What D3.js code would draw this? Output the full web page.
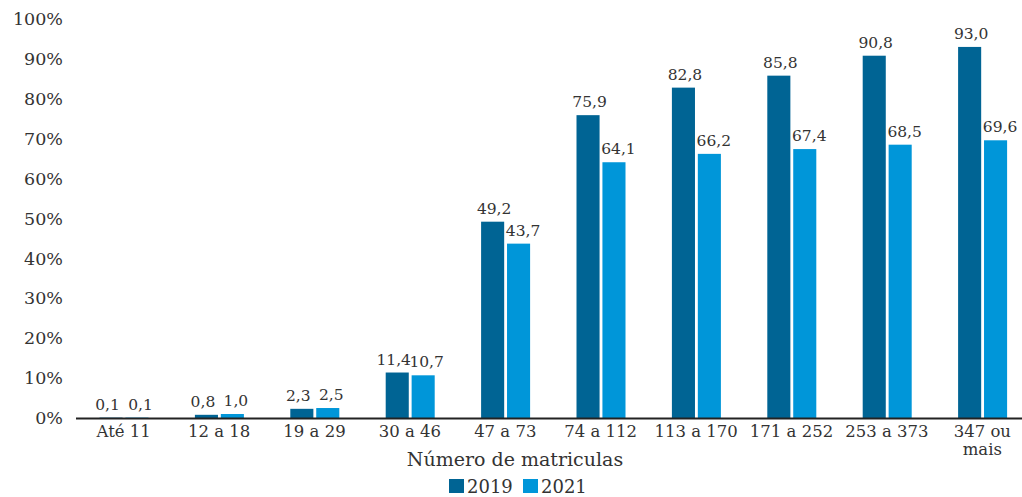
<!DOCTYPE html>
<html>
<head>
<meta charset="utf-8">
<script src="https://cdn.jsdelivr.net/npm/d3@7"></script>
<style>
  body { margin: 0; background: #fff; }
  text { font-family: "DejaVu Serif", serif; fill: #333; }
</style>
</head>
<body>
<svg width="1022" height="497"></svg>
<script>
// dados
const categorias = ["Até 11", "12 a 18", "19 a 29", "30 a 46", "47 a 73", "74 a 112", "113 a 170", "171 a 252", "253 a 373", "347 ou mais"]
const anos = ["2019", "2021"]
const valores2019 = [0.1, 0.8, 2.3, 11.4, 49.2, 75.9, 82.8, 85.8, 90.8, 93.0]
const valores2021 = [0.1, 1.0, 2.5, 10.7, 43.7, 64.1, 66.2, 67.4, 68.5, 69.6]
const ticksY = [0, 10, 20, 30, 40, 50, 60, 70, 80, 90, 100]

const cores = { "2019": "#006494", "2021": "#0096d9" }
const svg = d3.select("svg")

// escalas
const x = d3.scaleBand().domain(categorias).range([76, 1030]).padding(0)
const y = d3.scaleLinear().domain([0, 100]).range([418, 19])
const xSub = d3.scaleBand().domain(anos).range([23.5, 72.5]).paddingInner(0.11)

// eixo y (só texto)
svg.append("g")
  .selectAll("text")
  .data(ticksY)
  .join("text")
  .attr("x", 63)
  .attr("y", d => y(d))
  .attr("dy", "0.35em")
  .attr("text-anchor", "end")
  .style("font-size", "17.5px")
  .text(d => d + "%")

// barras
const linhas = []
categorias.forEach((c, i) => {
  const a = valores2019[i], b = valores2021[i]
  // rótulos afastados quando as barras têm alturas parecidas
  const perto = Math.abs(a - b) < 5
  linhas.push({ ano: "2019", cat: c, v: a, dx: perto ? -3.5 : 1.5 })
  linhas.push({ ano: "2021", cat: c, v: b, dx: perto ? 3.5 : 4.5 })
})

svg.append("g")
  .selectAll("rect")
  .data(linhas)
  .join("rect")
  .attr("x", d => x(d.cat) + xSub(d.ano))
  .attr("y", d => y(d.v))
  .attr("width", xSub.bandwidth())
  .attr("height", d => y(0) - y(d.v))
  .attr("fill", d => cores[d.ano])

// rótulos de valor
svg.append("g")
  .selectAll("text")
  .data(linhas)
  .join("text")
  .attr("x", d => x(d.cat) + xSub(d.ano) + xSub.bandwidth() / 2 + d.dx)
  .attr("y", d => y(d.v) - 8)
  .attr("text-anchor", "middle")
  .style("font-size", "15.5px")
  .text(d => d.v.toFixed(1).replace(".", ","))

// linha do eixo x
svg.append("line")
  .attr("x1", 76).attr("x2", 1022)
  .attr("y1", y(0) + 0.5).attr("y2", y(0) + 0.5)
  .attr("stroke", "#222").attr("stroke-width", 2)

// rótulos das categorias
const catG = svg.append("g")
  .selectAll("text")
  .data(categorias)
  .join("text")
  .attr("x", d => x(d) + x.bandwidth() / 2)
  .attr("y", 437)
  .attr("text-anchor", "middle")
  .style("font-size", "16.5px")
catG.each(function (d) {
  const t = d3.select(this)
  const partes = d === "347 ou mais" ? ["347 ou", "mais"] : [d]
  partes.forEach((p, i) => t.append("tspan")
    .attr("x", x(d) + x.bandwidth() / 2)
    .attr("dy", i === 0 ? 0 : 18)
    .text(p))
})

// título do eixo
svg.append("text")
  .attr("x", 515).attr("y", 466)
  .attr("text-anchor", "middle")
  .style("font-size", "19px")
  .text("Número de matriculas")

// legenda
const leg = svg.append("g").attr("transform", "translate(449,479)")
anos.forEach((a, i) => {
  const g = leg.append("g").attr("transform", `translate(${i * 74},0)`)
  g.append("rect").attr("width", 15).attr("height", 14).attr("fill", cores[a])
  g.append("text").attr("x", 18).attr("y", 14).style("font-size", "18px").text(a)
})
</script>
</body>
</html>
